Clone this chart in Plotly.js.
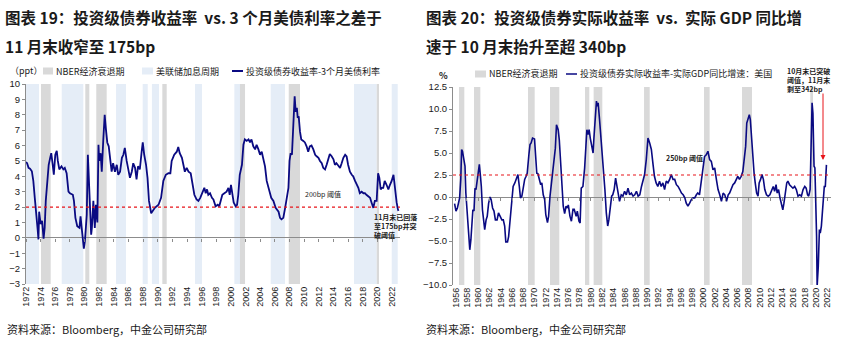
<!DOCTYPE html>
<html><head><meta charset="utf-8">
<script src="https://cdn.plot.ly/plotly-3.0.1.min.js"></script>
<style>html,body{margin:0;padding:0;background:#fff}#c{width:842px;height:342px}</style>
</head><body><div id="c"></div>
<script>
// ---------- Left chart data (ppt) ----------
const leftYears = [1972.0,1972.15,1972.35,1972.55,1972.8,1973.0,1973.2,1973.45,1973.6,1973.7,1973.8,1974.0,1974.2,1974.4,1974.55,1974.7,1974.9,1975.1,1975.3,1975.45,1975.65,1975.8,1976.0,1976.2,1976.35,1976.55,1976.85,1977.1,1977.3,1977.55,1977.8,1978.0,1978.4,1978.55,1978.75,1979.0,1979.3,1979.45,1979.65,1979.8,1979.9,1980.05,1980.3,1980.45,1980.6,1980.75,1980.9,1981.0,1981.2,1981.4,1981.55,1981.75,1981.9,1982.0,1982.2,1982.35,1982.55,1982.75,1982.9,1983.1,1983.3,1983.5,1983.7,1983.9,1984.15,1984.4,1984.6,1984.85,1985.1,1985.3,1985.5,1985.75,1986.0,1986.2,1986.45,1986.65,1986.9,1987.1,1987.3,1987.55,1987.8,1987.95,1988.15,1988.4,1988.6,1988.8,1989.1,1989.26,1989.6,1990.1,1990.45,1990.76,1991.1,1991.45,1991.72,1991.9,1992.25,1992.6,1992.8,1993.0,1993.3,1993.5,1993.7,1993.95,1994.2,1994.5,1994.72,1995.0,1995.3,1995.55,1995.8,1996.1,1996.36,1996.55,1996.73,1996.9,1997.14,1997.4,1997.6,1997.9,1998.2,1998.4,1998.6,1998.82,1999.1,1999.4,1999.65,1999.83,2000.0,2000.2,2000.37,2000.65,2000.83,2001.0,2001.2,2001.5,2001.7,2001.9,2002.15,2002.4,2002.6,2002.8,2003.05,2003.3,2003.5,2003.75,2003.97,2004.2,2004.42,2004.65,2004.88,2005.1,2005.5,2005.8,2006.1,2006.5,2006.7,2006.9,2007.15,2007.4,2007.6,2007.85,2008.0,2008.15,2008.33,2008.5,2008.7,2008.84,2009.0,2009.12,2009.25,2009.43,2009.6,2009.88,2010.1,2010.33,2010.55,2010.77,2011.0,2011.25,2011.5,2011.7,2011.95,2012.16,2012.4,2012.6,2012.85,2013.07,2013.3,2013.5,2013.75,2014.0,2014.2,2014.4,2014.65,2014.9,2015.12,2015.35,2015.6,2015.8,2016.0,2016.25,2016.5,2016.7,2016.95,2017.2,2017.4,2017.6,2017.85,2018.1,2018.3,2018.5,2018.75,2019.0,2019.2,2019.45,2019.65,2019.9,2020.1,2020.27,2020.45,2020.63,2020.8,2021.0,2021.25,2021.5,2021.72,2021.95,2022.2,2022.36,2022.5,2022.63,2022.8,2022.88];
const leftSpread = [4.93,4.85,4.55,4.5,4.33,3.7,2.6,1.5,0.5,-0.1,1.7,0.9,1.1,-0.05,0.65,2.4,3.5,4.75,5.2,5.5,4.75,4.1,5.4,5.65,5.0,4.45,4.65,4.45,4.55,4.2,3.0,2.9,2.8,2.4,1.3,0.75,0.65,1.4,0.45,-0.2,-0.7,-0.2,1.5,5.4,4.1,1.95,0.2,0.65,2.4,0.65,2.15,1.0,6.05,5.0,5.5,4.3,6.3,8.0,7.15,6.2,5.95,5.0,4.3,4.85,4.3,4.75,4.1,4.3,5.2,5.4,5.85,5.0,4.3,3.9,4.3,4.85,4.55,3.8,4.65,4.45,5.6,6.2,5.4,4.75,3.9,2.4,1.6,1.7,1.95,2.15,2.6,3.7,4.1,4.2,4.2,5.0,5.4,5.6,5.9,5.5,5.2,4.75,4.3,4.55,4.3,4.2,3.55,2.8,2.5,2.4,2.6,3.0,3.25,2.9,3.15,2.8,2.9,2.6,2.5,2.05,2.15,2.05,2.5,2.8,2.9,3.0,3.25,2.8,3.45,2.6,2.3,2.05,2.15,2.8,4.1,4.75,6.05,6.4,6.3,6.4,6.2,6.4,5.95,5.75,6.05,5.75,5.4,5.6,5.2,4.65,3.7,3.25,2.6,2.4,1.95,1.7,1.3,1.2,1.3,1.95,2.6,3.25,5.0,5.5,5.4,7.35,9.2,8.2,8.45,7.8,7.9,6.9,6.4,6.3,6.2,5.95,5.6,5.95,6.0,5.75,5.4,5.3,5.2,5.0,4.85,4.55,4.45,4.75,5.2,5.45,5.3,5.1,4.75,4.85,4.7,4.55,4.85,5.2,5.4,5.3,4.75,4.3,4.1,4.0,3.7,3.45,3.25,2.9,3.0,2.9,2.9,2.8,2.7,2.6,2.3,1.95,2.4,2.4,4.2,3.9,3.15,3.25,3.25,3.7,3.45,3.15,3.45,3.7,4.1,3.45,2.5,2.3,1.85,1.75];
const leftThreshold = 2;
const leftTickYears = [1972,1974,1976,1978,1980,1982,1984,1986,1988,1990,1992,1994,1996,1998,2000,2002,2004,2006,2008,2010,2012,2014,2016,2018,2020,2022];
const leftYTicks = [-3,-2,-1,0,1,2,3,4,5,6,7,8,9,10];
// NBER recessions and Fed hiking cycles [start, end]
const leftRecessions = [[1974.05,1975.37],[1980.1,1980.65],[1981.6,1983.02],[1990.62,1991.22],[2001.23,2001.92],[2007.89,2009.43],[2019.91,2020.22]];
const leftHikes = [[1972.0,1973.78],[1976.88,1979.83],[1984.3,1985.66],[1987.94,1988.63],[1989.2,1990.17],[1995.09,1996.04],[2000.46,2001.23],[2005.43,2007.38],[2016.81,2019.91],[2021.96,2022.78]];

// ---------- Right chart data (%) ----------
const rightYears = [1955.8,1956.05,1956.3,1956.5,1956.7,1956.9,1957.05,1957.2,1957.5,1957.65,1957.8,1958.0,1958.2,1958.35,1958.5,1958.7,1958.9,1959.05,1959.25,1959.43,1959.6,1959.85,1960.0,1960.2,1960.4,1960.55,1960.75,1960.95,1961.15,1961.4,1961.6,1961.85,1962.1,1962.3,1962.55,1962.8,1963.05,1963.35,1963.6,1963.9,1964.2,1964.45,1964.7,1964.9,1965.2,1965.4,1965.65,1965.9,1966.2,1966.5,1966.75,1967.05,1967.3,1967.5,1967.75,1968.0,1968.25,1968.5,1968.7,1969.0,1969.2,1969.4,1969.65,1970.0,1970.15,1970.4,1970.6,1970.85,1971.1,1971.3,1971.55,1971.8,1972.0,1972.3,1972.5,1972.75,1973.0,1973.2,1973.45,1973.7,1973.9,1974.2,1974.4,1974.65,1974.9,1975.1,1975.35,1975.6,1975.8,1976.0,1976.3,1976.55,1976.83,1977.05,1977.4,1977.6,1977.9,1978.1,1978.3,1978.6,1978.9,1979.1,1979.3,1979.5,1979.7,1979.9,1980.15,1980.4,1980.55,1980.8,1981.0,1981.15,1981.3,1981.55,1981.8,1982.05,1982.3,1982.5,1982.75,1983.0,1983.2,1983.5,1983.7,1983.9,1984.15,1984.4,1984.65,1984.9,1985.1,1985.4,1985.7,1986.0,1986.3,1986.6,1986.9,1987.2,1987.5,1987.8,1988.1,1988.4,1988.7,1989.0,1989.3,1989.55,1989.85,1990.15,1990.45,1990.75,1991.05,1991.3,1991.6,1991.9,1992.2,1992.5,1992.8,1993.1,1993.4,1993.7,1994.0,1994.3,1994.6,1994.9,1995.2,1995.5,1995.8,1996.1,1996.4,1996.7,1996.95,1997.25,1997.55,1997.85,1998.15,1998.45,1998.75,1999.0,1999.3,1999.6,1999.9,2000.2,2000.5,2000.8,2001.1,2001.4,2001.7,2002.0,2002.3,2002.6,2002.9,2003.2,2003.5,2003.8,2004.1,2004.4,2004.65,2004.95,2005.25,2005.55,2005.85,2006.1,2006.4,2006.7,2007.0,2007.3,2007.5,2007.7,2007.95,2008.15,2008.33,2008.5,2008.75,2009.0,2009.2,2009.45,2009.7,2009.9,2010.15,2010.4,2010.65,2010.9,2011.2,2011.5,2011.8,2012.1,2012.4,2012.65,2012.9,2013.1,2013.35,2013.6,2013.85,2014.1,2014.3,2014.55,2014.8,2015.0,2015.3,2015.6,2015.9,2016.2,2016.5,2016.8,2017.1,2017.4,2017.7,2018.0,2018.25,2018.5,2018.7,2018.95,2019.1,2019.3,2019.45,2019.65,2019.8,2019.95,2020.1,2020.2,2020.4,2020.6,2020.75,2020.95,2021.1,2021.3,2021.47,2021.65,2021.85];
const rightGap = [-0.75,-1.6,-1.25,-0.7,-0.1,2.0,5.4,5.2,3.7,3.5,0.45,-1.8,-3.9,-4.3,-6.0,-4.85,-2.6,-1.45,-1.6,1.0,0.85,2.0,2.9,3.7,2.35,1.2,-1.45,-2.6,-3.7,-2.6,-2.2,-0.7,0.0,-0.3,-1.25,-1.6,-2.6,-2.6,-1.8,-2.2,-2.6,-2.6,-3.3,-5.1,-5.1,-4.5,-2.6,-0.3,1.2,1.6,2.0,2.55,1.2,-0.1,0.1,1.2,2.0,2.35,2.7,4.8,5.95,6.15,6.7,6.6,4.45,2.7,2.65,2.0,1.4,1.6,0.25,-0.3,-2.0,-2.9,-2.2,0.1,1.6,2.7,3.85,5.55,8.2,7.65,6.5,3.5,1.2,-1.05,-1.9,-1.05,-1.25,-0.9,-2.2,-2.75,-1.4,-1.4,-2.2,-1.6,-2.75,-2.95,1.0,1.2,3.3,5.0,7.65,7.1,7.65,6.7,5.75,5.0,6.7,8.8,10.9,10.3,10.7,8.8,6.7,5.4,2.35,0.85,-1.8,-3.3,-2.6,-1.25,0.1,0.25,0.85,2.15,1.2,0.25,-0.5,0.25,0.1,0.65,0.25,1.0,0.25,0.45,0.1,0.25,0.65,0.1,0.25,1.2,1.8,2.55,4.25,6.7,6.15,5.4,3.7,2.35,1.6,1.2,1.8,1.2,1.6,0.85,1.8,1.6,2.0,2.55,2.0,2.0,1.4,1.2,0.85,0.45,0.25,-0.1,-0.7,-1.05,-0.7,-0.3,-0.1,-0.1,0.25,0.45,0.25,1.6,2.9,4.6,4.8,5.2,4.25,4.05,3.1,3.3,2.0,0.85,0.25,-0.5,0.45,0.25,-0.5,0.25,0.45,0.85,1.4,1.6,2.0,2.35,2.0,2.35,2.9,4.25,5.75,8.4,9.0,9.35,8.8,6.9,4.25,2.7,1.6,0.45,0.1,1.6,2.0,2.55,2.0,0.85,0.25,0.1,0.25,0.85,1.2,0.65,1.4,0.45,0.85,-0.1,-0.7,-1.45,-0.7,0.85,1.6,1.8,1.4,1.2,1.0,1.2,0.85,0.1,0.25,0.1,0.85,1.2,1.0,0.25,0.1,0.85,5.75,10.7,9.5,3.5,3.3,0.45,-4.5,-10.1,-7.9,-3.7,-4.1,-3.3,-1.8,0.25,1.2,1.2,3.65];
const rightThreshold = 2.5;
const rightTickYears = [1956,1958,1960,1962,1964,1966,1968,1970,1972,1974,1976,1978,1980,1982,1984,1986,1988,1990,1992,1994,1996,1998,2000,2002,2004,2006,2008,2010,2012,2014,2016,2018,2020,2022];
const rightYTicks = [-10,-7.5,-5,-2.5,0,2.5,5,7.5,10,12.5];
const rightRecessions = [[1956.59,1957.53],[1959.25,1960.37],[1968.84,1970.03],[1972.75,1974.4],[1978.97,1979.73],[1980.5,1982.04],[1989.45,1990.46],[2000.1,2001.1],[2006.85,2008.63],[2018.98,2019.46]];

// ---------- Texts ----------
const leftTitle1 = '图表 19：投资级债券收益率  vs. 3 个月美债利率之差于';
const leftTitle2 = '11 月末收窄至 175bp';
const rightTitle1 = '图表 20：投资级债券实际收益率  vs.  实际 GDP 同比增';
const rightTitle2 = '速于 10 月末抬升至超 340bp';
const sourceText = '资料来源：Bloomberg，中金公司研究部';
const leftLegend = ['NBER经济衰退期','美联储加息周期','投资级债券收益率-3个月美债利率'];
const rightLegend = ['NBER经济衰退期','投资级债券实际收益率-实际GDP同比增速：美国'];

// ---------- Helpers (pixel layout -> paper coords) ----------
const W = 842, H = 342;
const px = v => v / W, py = v => 1 - v / H;
const NAVY = '#0a0a82', GREY = '#d9d9d9', LBLUE = '#e5edf7', AXIS = '#8c8c8c', TXT = '#1a1a1a';
const FONT = 'Liberation Sans, Arial, Noto Sans CJK SC, sans-serif';
const CJK = 'Noto Sans CJK SC, sans-serif';

const shapes = [];
leftHikes.forEach(([a,b]) => shapes.push({type:'rect', xref:'x', yref:'y domain', x0:a, x1:b, y0:0, y1:1, fillcolor:LBLUE, line:{width:0}, layer:'below'}));
leftRecessions.forEach(([a,b]) => shapes.push({type:'rect', xref:'x', yref:'y domain', x0:a, x1:b, y0:0, y1:1, fillcolor:GREY, line:{width:0}, layer:'below'}));
rightRecessions.forEach(([a,b]) => shapes.push({type:'rect', xref:'x2', yref:'y2 domain', x0:a, x1:b, y0:0, y1:1, fillcolor:GREY, line:{width:0}, layer:'below'}));
shapes.push({type:'line', xref:'x domain', yref:'y', x0:0, x1:1, y0:leftThreshold, y1:leftThreshold, line:{color:'#e8141a', width:1.2, dash:'dot'}});
shapes.push({type:'line', xref:'x2 domain', yref:'y2', x0:0, x1:1, y0:rightThreshold, y1:rightThreshold, line:{color:'#e8141a', width:1.2, dash:'dot'}});
// legend keys
shapes.push({type:'rect', xref:'paper', yref:'paper', x0:px(43), x1:px(53), y0:py(74.5), y1:py(67.5), fillcolor:GREY, line:{width:0}});
shapes.push({type:'rect', xref:'paper', yref:'paper', x0:px(142), x1:px(153), y0:py(74.5), y1:py(67.5), fillcolor:LBLUE, line:{width:0}});
shapes.push({type:'line', xref:'paper', yref:'paper', x0:px(232), x1:px(243), y0:py(71), y1:py(71), line:{color:NAVY, width:2}});
shapes.push({type:'rect', xref:'paper', yref:'paper', x0:px(475), x1:px(486), y0:py(77.5), y1:py(70.5), fillcolor:GREY, line:{width:0}});
shapes.push({type:'line', xref:'paper', yref:'paper', x0:px(566), x1:px(577), y0:py(74), y1:py(74), line:{color:NAVY, width:1.5}});

const ann = [];
const txt = (x, y, text, size, opts={}) => ann.push(Object.assign({xref:'paper', yref:'paper', x:px(x), y:py(y), text, showarrow:false, xanchor:'left', yanchor:'middle', font:{family:CJK, size, color:TXT}}, opts));
txt(3, 17, '<b>'+leftTitle1+'</b>', 15.5);
txt(3, 46, '<b>'+leftTitle2+'</b>', 15.5);
txt(424, 17, '<b>'+rightTitle1+'</b>', 15.5);
txt(424, 46, '<b>'+rightTitle2+'</b>', 15.5);
txt(5, 329, sourceText, 11);
txt(424, 329, sourceText, 11);
txt(8, 70.5, '（ppt）', 9);
txt(54, 71, leftLegend[0], 9);
txt(154, 71, leftLegend[1], 9);
txt(244, 71, leftLegend[2], 9);
txt(487, 74, rightLegend[0], 9);
txt(578, 74, rightLegend[1], 9);
txt(437, 75, '<b>%</b>', 9);
// in-plot notes
ann.push({xref:'x', yref:'y', x:2012.6, y:2.86, text:'200bp 阈值', showarrow:false, font:{family:CJK, size:7, color:TXT}});
ann.push({xref:'x', yref:'y', x:2019.27, y:0.78, text:'<b>11月末已回落<br>至175bp并突<br>破阈值</b>', showarrow:false, xanchor:'left', align:'left', font:{family:CJK, size:7, color:TXT}});
ann.push({xref:'x2', yref:'y2', x:1996.64, y:4.43, text:'<b>250bp 阈值</b>', showarrow:false, font:{family:CJK, size:7, color:TXT}});
txt(785, 80, '<b>10月末已突破<br>阈值，11月末<br>剩至342bp</b>', 7, {align:'left'});
ann.push({xref:'x2', yref:'y2', x:2021.24, y:4.2, ax:2021.24, ay:11.93, axref:'x2', ayref:'y2', text:'', showarrow:true, arrowhead:2, arrowsize:1, arrowwidth:1, arrowcolor:'#e8141a'});

const traces = [
  {type:'scatter', mode:'lines', x:leftYears, y:leftSpread, xaxis:'x', yaxis:'y', line:{color:NAVY, width:1.8}, hoverinfo:'skip', showlegend:false},
  {type:'scatter', mode:'lines', x:rightYears, y:rightGap, xaxis:'x2', yaxis:'y2', line:{color:NAVY, width:1.6}, hoverinfo:'skip', showlegend:false},
  {type:'scatter', mode:'lines', x:[], y:[], xaxis:'x3', yaxis:'y', showlegend:false, hoverinfo:'skip'},
  {type:'scatter', mode:'lines', x:[], y:[], xaxis:'x4', yaxis:'y2', showlegend:false, hoverinfo:'skip'}
];

const xBase = {showgrid:false, zeroline:false, showline:false, ticks:'', tickangle:-90, tickfont:{family:FONT, size:9, color:TXT}, fixedrange:true};
const yBase = {showgrid:false, showline:true, linecolor:AXIS, linewidth:1, ticks:'outside', ticklen:3, tickcolor:AXIS, zeroline:true, zerolinecolor:AXIS, zerolinewidth:1, tickfont:{family:FONT, size:9.5, color:TXT}, fixedrange:true};
const zeroTicks = {showgrid:false, zeroline:false, showline:false, ticks:'outside', ticklen:3, tickcolor:AXIS, showticklabels:false, anchor:'free', fixedrange:true};

const layout = {
  width:W, height:H, margin:{l:0,r:0,t:0,b:0}, paper_bgcolor:'#fff', plot_bgcolor:'rgba(0,0,0,0)', showlegend:false,
  xaxis: Object.assign({}, xBase, {domain:[px(26), px(400)], range:[1972, 2023.09], anchor:'y', tickmode:'array', tickvals:leftTickYears, ticktext:leftTickYears.map(String)}),
  yaxis: Object.assign({}, yBase, {domain:[58/H, 258/H], range:[-3, 10], anchor:'x', tickmode:'array', tickvals:leftYTicks}),
  xaxis2: Object.assign({}, xBase, {domain:[px(453), px(831)], range:[1955.52, 2022.66], anchor:'y2', tickmode:'array', tickvals:rightTickYears, ticktext:rightTickYears.map(String)}),
  yaxis2: Object.assign({}, yBase, {domain:[57/H, 255/H], range:[-10, 12.5], anchor:'x2', tickmode:'array', tickvals:rightYTicks, tickformat:'.1f'}),
  xaxis3: Object.assign({}, zeroTicks, {overlaying:'x', matches:'x', position:104/H, tickmode:'array', tickvals:leftTickYears}),
  xaxis4: Object.assign({}, zeroTicks, {overlaying:'x2', matches:'x2', position:145/H, tickmode:'array', tickvals:rightTickYears}),
  shapes, annotations: ann
};
Plotly.newPlot('c', traces, layout, {staticPlot:true, displayModeBar:false});
</script></body></html>
